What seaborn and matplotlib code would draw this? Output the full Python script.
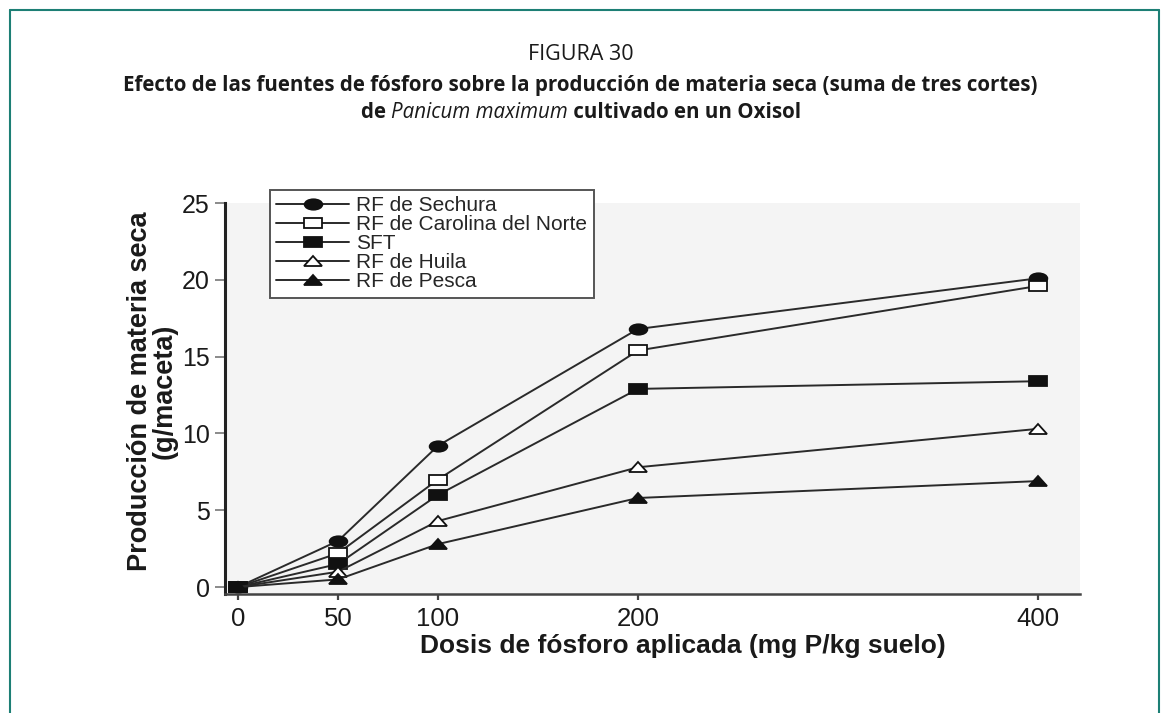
import matplotlib
matplotlib.use("Agg")
import matplotlib.pyplot as plt
from matplotlib.lines import Line2D
from matplotlib.markers import MarkerStyle
from matplotlib.transforms import Affine2D
import seaborn as sns
import pandas as pd

# Data
dosis = [0, 50, 100, 200, 400]
sechura = [0.0, 3.0, 9.2, 16.8, 20.1]
carolina = [0.0, 2.2, 7.0, 15.4, 19.6]
sft = [0.0, 1.5, 6.0, 12.9, 13.4]
huila = [0.0, 1.0, 4.3, 7.8, 10.3]
pesca = [0.0, 0.5, 2.8, 5.8, 6.9]

fuentes = ["RF de Sechura", "RF de Carolina del Norte", "SFT",
           "RF de Huila", "RF de Pesca"]
valores = [sechura, carolina, sft, huila, pesca]
marcadores = ["o", "s", "s", "^", "^"]
relleno = ["#111111", "white", "#111111", "white", "#111111"]

df = pd.DataFrame({
    "dosis": dosis * len(fuentes),
    "produccion": [v for serie in valores for v in serie],
    "fuente": [f for f in fuentes for _ in dosis],
})

sns.set_theme(style="ticks")
plt.rcParams["font.family"] = ["Liberation Sans", "DejaVu Sans"]

fig = plt.figure(figsize=(11.68, 7.13), dpi=100)
ax = fig.add_axes([225 / 1168, 1 - 594 / 713, 855 / 1168, 391 / 713])
ax.set_facecolor("#f4f4f4")

line_color = "#2a2a2a"
# markers in the scan are noticeably wider than tall
stretch = Affine2D().scale(1.7, 1.0)
for fuente, mk, fc in zip(fuentes, marcadores, relleno):
    sub = df[df["fuente"] == fuente]
    sns.lineplot(data=sub, x="dosis", y="produccion", ax=ax,
                 color=line_color, linewidth=1.4,
                 marker=MarkerStyle(mk, transform=stretch),
                 markersize=7.5, markerfacecolor=fc,
                 markeredgecolor="#111111", markeredgewidth=1.3,
                 label=fuente)

ax.set_xlim(-6.5, 421)
ax.set_ylim(-0.45, 25)
ax.set_xticks(dosis)
ax.set_yticks([0, 5, 10, 15, 20, 25])
ax.tick_params(axis="y", labelsize=18, length=7, width=1.2,
               color="#777777", labelcolor="#1a1a1a", pad=4)
ax.tick_params(axis="x", labelsize=18.5, length=4, width=1.6,
               color="#444444", labelcolor="#1a1a1a", pad=5)

for side in ["top", "right"]:
    ax.spines[side].set_visible(False)
ax.spines["left"].set_linewidth(2.2)
ax.spines["left"].set_color("#222222")
ax.spines["bottom"].set_linewidth(1.8)
ax.spines["bottom"].set_color("#444444")

ax.set_xlabel("Dosis de fósforo aplicada (mg P/kg suelo)",
              fontsize=19, fontweight="bold", color="#1a1a1a")
ax.xaxis.set_label_coords((683 - 225) / 855, (594 - 634) / 391)
ax.set_ylabel("Producción de materia seca\n(g/maceta)",
              fontsize=19.5, fontweight="bold", linespacing=0.95,
              color="#1a1a1a")
ax.yaxis.set_label_coords((178 - 225) / 855, (594 - 391) / 391)

leg = ax.legend(loc="upper left",
                bbox_to_anchor=(270 / 1168, 1 - 190 / 713),
                bbox_transform=fig.transFigure, borderaxespad=0,
                fontsize=15, frameon=True, fancybox=False,
                handlelength=3.5, handletextpad=0.35, labelspacing=0.0,
                borderpad=0.3)
leg.get_frame().set_edgecolor("#555555")
leg.get_frame().set_linewidth(1.4)
leg.get_frame().set_facecolor("white")
leg.get_frame().set_alpha(1)

# Titles
title_font = ["Open Sans", "DejaVu Sans"]
fig.text(0.497, 1 - 55 / 713, "FIGURA 30", ha="center", va="center",
         fontsize=15.5, family=title_font, color="#1a1a1a")
fig.text(0.497, 1 - 85 / 713,
         "Efecto de las fuentes de fósforo sobre la producción de materia seca (suma de tres cortes)",
         ha="center", va="center", fontsize=14.8, fontweight="bold",
         family=title_font, color="#1a1a1a")

# third line: mixed bold / italic pieces, centred as a whole
renderer = fig.canvas.get_renderer()
pieces = [("de ", "bold", "normal"),
          ("Panicum maximum", "normal", "italic"),
          (" cultivado en un Oxisol", "bold", "normal")]
texts = []
for s, w, st in pieces:
    t = fig.text(0, 1 - 112 / 713, s, ha="left", va="center",
                 fontsize=14.8, fontweight=w, fontstyle=st,
                 family=title_font, color="#1a1a1a")
    texts.append(t)
widths = [t.get_window_extent(renderer).width for t in texts]
x = 581 - sum(widths) / 2
for t, w in zip(texts, widths):
    t.set_x(x / 1168)
    x += w

# teal frame around the figure
frame = "#1d7f75"
fig.add_artist(Line2D([10 / 1168, 10 / 1168], [0, 1 - 10 / 713],
                      transform=fig.transFigure, color=frame, lw=1.5))
fig.add_artist(Line2D([10 / 1168, 1159 / 1168], [1 - 10 / 713, 1 - 10 / 713],
                      transform=fig.transFigure, color=frame, lw=1.5))
fig.add_artist(Line2D([1159 / 1168, 1159 / 1168], [0, 1 - 10 / 713],
                      transform=fig.transFigure, color=frame, lw=1.5))

fig.savefig("out.png", dpi=100, facecolor="white")
